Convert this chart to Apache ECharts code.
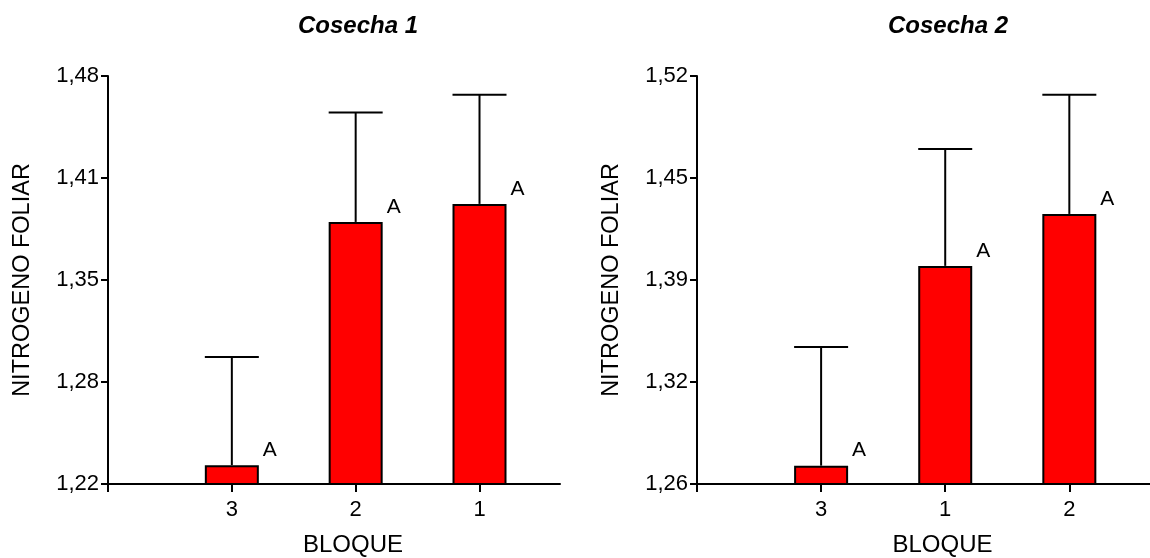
<!DOCTYPE html>
<html>
<head>
<meta charset="utf-8">
<script src="https://cdn.jsdelivr.net/npm/echarts@6/dist/echarts.min.js"></script>
<style>
  html, body { margin: 0; padding: 0; background: #ffffff; }
  #chart { width: 1150px; height: 558px; }
</style>
</head>
<body>
<div id="chart"></div>
<script>
// ---- data ----
const titles = ['Cosecha 1', 'Cosecha 2'];
const cats1 = ['3', '2', '1'];
const vals1 = [1.232, 1.387, 1.3985];
const err1 = [0.069, 0.0697, 0.0696];
const letters1 = ['A', 'A', 'A'];
const yTicks1 = [1.22, 1.285, 1.35, 1.415, 1.48];
const yLabels1 = ['1,22', '1,28', '1,35', '1,41', '1,48'];

const cats2 = ['3', '1', '2'];
const vals2 = [1.2717, 1.399, 1.4321];
const err2 = [0.0756, 0.0745, 0.076];
const letters2 = ['A', 'A', 'A'];
const yTicks2 = [1.26, 1.325, 1.39, 1.455, 1.52];
const yLabels2 = ['1,26', '1,32', '1,39', '1,45', '1,52'];

const yName = 'NITROGENO FOLIAR';
const xName = 'BLOQUE';

// ---- chart ----
const FONT = 'Liberation Sans, Arial, sans-serif';
const chart = echarts.init(document.getElementById('chart'), null, { renderer: 'canvas' });

function nearestLabel(ticks, labels, v) {
  let best = 0;
  for (let i = 1; i < ticks.length; i++) {
    if (Math.abs(ticks[i] - v) < Math.abs(ticks[best] - v)) best = i;
  }
  return labels[best];
}

function xAxisFor(idx, cats) {
  return {
    type: 'value', gridIndex: idx, min: 0, max: 3.65,
    name: xName, nameLocation: 'middle', nameGap: 49,
    nameTextStyle: { fontSize: 24, color: '#000', fontFamily: FONT, padding: [0, 0, 0, 38] },
    axisLine: { show: true, lineStyle: { color: '#000', width: 2 } },
    axisTick: { show: true, length: 8, lineStyle: { color: '#000', width: 2 }, customValues: [0, 1, 2, 3] },
    axisLabel: { show: true, margin: 15, fontSize: 22, color: '#000', fontFamily: FONT,
      customValues: [1, 2, 3], formatter: v => cats[Math.round(v) - 1] },
    splitLine: { show: false }
  };
}

function yAxisFor(idx, ticks, labels) {
  return {
    type: 'value', gridIndex: idx, min: ticks[0], max: ticks[ticks.length - 1],
    name: yName, nameLocation: 'middle', nameGap: 73, nameRotate: 90,
    nameTextStyle: { fontSize: 23.5, color: '#000', fontFamily: FONT },
    axisLine: { show: true, lineStyle: { color: '#000', width: 2 } },
    axisTick: { show: true, length: 7, lineStyle: { color: '#000', width: 2 }, customValues: ticks },
    axisLabel: { show: true, margin: 9, fontSize: 22, color: '#000', fontFamily: FONT,
      customValues: ticks, formatter: v => nearestLabel(ticks, labels, v) },
    splitLine: { show: false }
  };
}

function barSeries(idx, vals, letters) {
  return {
    type: 'bar', xAxisIndex: idx, yAxisIndex: idx,
    barWidth: 54,
    data: vals.map((v, i) => [i + 1, v]),
    itemStyle: { color: '#ff0000', borderColor: '#000', borderWidth: 2 },
    label: {
      show: true, position: [65, -15], align: 'center', verticalAlign: 'middle',
      fontSize: 21, color: '#000', fontFamily: FONT,
      formatter: p => letters[p.dataIndex]
    },
    emphasis: { disabled: true },
    animation: false
  };
}

function errSeries(idx, vals, errs) {
  return {
    type: 'custom', xAxisIndex: idx, yAxisIndex: idx,
    data: vals.map((v, i) => [i + 1, v, v + errs[i]]),
    encode: { x: 0, y: [1, 2] },
    z: 3,
    renderItem: function (params, api) {
      const x = api.value(0);
      const p0 = api.coord([x, api.value(1)]);
      const p1 = api.coord([x, api.value(2)]);
      const hw = 27;
      const style = { stroke: '#000', lineWidth: 2 };
      return {
        type: 'group',
        children: [
          { type: 'line', shape: { x1: p0[0], y1: p0[1], x2: p1[0], y2: p1[1] }, style: style },
          { type: 'line', shape: { x1: p1[0] - hw, y1: p1[1], x2: p1[0] + hw, y2: p1[1] }, style: style }
        ]
      };
    },
    animation: false
  };
}

const option = {
  backgroundColor: '#ffffff',
  animation: false,
  title: [
    { text: titles[0], left: 353, top: 9, textAlign: 'center',
      textStyle: { fontSize: 24, fontWeight: 'bold', fontStyle: 'italic', color: '#000', fontFamily: FONT } },
    { text: titles[1], left: 943, top: 9, textAlign: 'center',
      textStyle: { fontSize: 24, fontWeight: 'bold', fontStyle: 'italic', color: '#000', fontFamily: FONT } }
  ],
  grid: [
    { left: 108, top: 76, width: 452, height: 408, outerBoundsMode: 'none', containLabel: false },
    { left: 697, top: 76, width: 453, height: 408, outerBoundsMode: 'none', containLabel: false }
  ],
  xAxis: [xAxisFor(0, cats1), xAxisFor(1, cats2)],
  yAxis: [yAxisFor(0, yTicks1, yLabels1), yAxisFor(1, yTicks2, yLabels2)],
  series: [
    barSeries(0, vals1, letters1),
    errSeries(0, vals1, err1),
    barSeries(1, vals2, letters2),
    errSeries(1, vals2, err2)
  ]
};
chart.setOption(option);
</script>
</body>
</html>
